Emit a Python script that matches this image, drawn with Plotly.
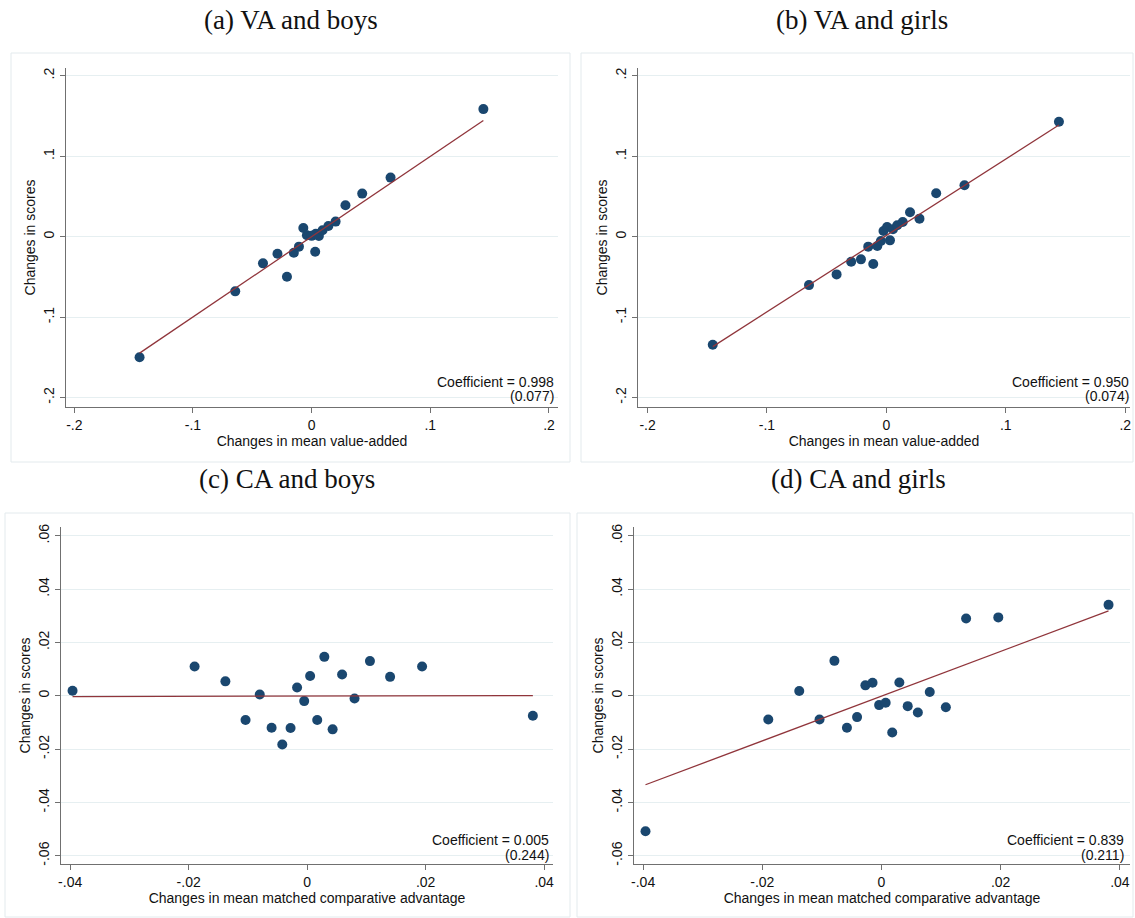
import plotly.graph_objects as go
import numpy as np

# ---------------- data ----------------
va_boys_x = [-0.1450, -0.0644, -0.0410, -0.0288, -0.0208, -0.0150, -0.0107, -0.0070, -0.0040, 0.0000,
             0.0030, 0.0035, 0.0061, 0.0092, 0.0141, 0.0202, 0.0285, 0.0426, 0.0665, 0.1447]
va_boys_y = [-0.1498, -0.0680, -0.0332, -0.0212, -0.0498, -0.0200, -0.0124, 0.0108, 0.0017, 0.0010,
             -0.0187, 0.0035, 0.0008, 0.0079, 0.0133, 0.0187, 0.0390, 0.0535, 0.0734, 0.1585]
va_boys_fit = (0.0000, 0.998)   # intercept, slope

va_girls_x = [-0.1454, -0.0648, -0.0417, -0.0295, -0.0213, -0.0152, -0.0110, -0.0076, -0.0046, -0.0024,
              0.0006, 0.0030, 0.0055, 0.0091, 0.0137, 0.0198, 0.0277, 0.0417, 0.0654, 0.1445]
va_girls_y = [-0.1344, -0.0602, -0.0469, -0.0311, -0.0282, -0.0124, -0.0340, -0.0116, -0.0054, 0.0071,
              0.0120, -0.0046, 0.0091, 0.0141, 0.0183, 0.0303, 0.0224, 0.0539, 0.0639, 0.1427]
va_girls_fit = (0.0015, 0.950)

ca_boys_x = [-0.0396, -0.0190, -0.0138, -0.0104, -0.0080, -0.0060, -0.0042, -0.0028, -0.0017, -0.0005,
             0.0005, 0.0017, 0.0029, 0.0043, 0.0059, 0.0080, 0.0106, 0.0140, 0.0194, 0.0381]
ca_boys_y = [0.0019, 0.0110, 0.0054, -0.0091, 0.0005, -0.0120, -0.0183, -0.0121, 0.0031, -0.0020,
             0.0074, -0.0091, 0.0146, -0.0126, 0.0080, -0.0010, 0.0130, 0.0071, 0.0110, -0.0075]
ca_boys_fit = (-0.0001, 0.005)

ca_girls_x = [-0.0396, -0.0190, -0.0138, -0.0104, -0.0079, -0.0058, -0.0041, -0.0027, -0.0015, -0.0004,
              0.0007, 0.0018, 0.0030, 0.0044, 0.0061, 0.0081, 0.0108, 0.0142, 0.0196, 0.0381]
ca_girls_y = [-0.0508, -0.0089, 0.0018, -0.0089, 0.0131, -0.0120, -0.0080, 0.0039, 0.0049, -0.0035,
              -0.0026, -0.0138, 0.0050, -0.0039, -0.0063, 0.0014, -0.0043, 0.0290, 0.0294, 0.0341]
ca_girls_fit = (-0.00015, 0.839)

panel_titles = ["(a) VA and boys", "(b) VA and girls", "(c) CA and boys", "(d) CA and girls"]
coef_text = [("Coefficient = 0.998", "(0.077)"), ("Coefficient = 0.950", "(0.074)"),
             ("Coefficient = 0.005", "(0.244)"), ("Coefficient = 0.839", "(0.211)")]
xlabels = ["Changes in mean value-added", "Changes in mean value-added",
           "Changes in mean matched comparative advantage", "Changes in mean matched comparative advantage"]
ylabel = "Changes in scores"

va_ticks = [-0.2, -0.1, 0, 0.1, 0.2]
va_ticktext = ["-.2", "-.1", "0", ".1", ".2"]
ca_xticks = [-0.04, -0.02, 0, 0.02, 0.04]
ca_xticktext = ["-.04", "-.02", "0", ".02", ".04"]
ca_yticks = [-0.06, -0.04, -0.02, 0, 0.02, 0.04, 0.06]
ca_yticktext = ["-.06", "-.04", "-.02", "0", ".02", ".04", ".06"]

# ---------------- layout geometry (pixels) ----------------
W, H = 1135, 918
NAVY = "#1a476f"
MAROON = "#90353b"
AXIS = "#707070"
GRID = "#e6eff1"
FRAME = "#e3eaed"
SANS = "Liberation Sans, Arial, sans-serif"
SERIF = "Liberation Serif, Times New Roman, serif"

panels = [
    dict(x=va_boys_x, y=va_boys_y, fit=va_boys_fit, px=(66, 558), py=(68, 407),
         xr=(-0.207, 0.2076), yr=(-0.2117, 0.2096), xt=va_ticks, xtt=va_ticktext, yt=va_ticks, ytt=va_ticktext,
         frame=(11, 53, 570, 462), title=(291, 20), coef=(556, 381.5, 396.5)),
    dict(x=va_girls_x, y=va_girls_y, fit=va_girls_fit, px=(638, 1130), py=(68, 407),
         xr=(-0.208, 0.204), yr=(-0.2117, 0.2096), xt=va_ticks, xtt=va_ticktext, yt=va_ticks, ytt=va_ticktext,
         frame=(581, 53, 1133, 462), title=(862, 20), coef=(1131, 381.5, 396.5)),
    dict(x=ca_boys_x, y=ca_boys_y, fit=ca_boys_fit, px=(61, 553), py=(527, 864),
         xr=(-0.04155, 0.0415), yr=(-0.0631, 0.0633), xt=ca_xticks, xtt=ca_xticktext, yt=ca_yticks, ytt=ca_yticktext,
         frame=(5, 513, 570, 917), title=(287, 479), coef=(551, 840, 854.5)),
    dict(x=ca_girls_x, y=ca_girls_y, fit=ca_girls_fit, px=(634, 1130), py=(527, 864),
         xr=(-0.04153, 0.0417), yr=(-0.0631, 0.0633), xt=ca_xticks, xtt=ca_xticktext, yt=ca_yticks, ytt=ca_yticktext,
         frame=(577, 513, 1133, 917), title=(858, 479), coef=(1126, 840, 854.5)),
]

fig = go.Figure()
shapes = []
annotations = []
layout_axes = {}

for i, p in enumerate(panels):
    n = "" if i == 0 else str(i + 1)
    xa, ya = "x" + n, "y" + n
    # frame of the graph region
    l, t, r, b = p["frame"]
    shapes.append(dict(type="rect", xref="paper", yref="paper", x0=l / W, x1=r / W,
                       y0=1 - b / H, y1=1 - t / H, line=dict(color=FRAME, width=1), layer="below"))
    # scatter points
    fig.add_trace(go.Scatter(x=p["x"], y=p["y"], mode="markers", xaxis=xa, yaxis=ya,
                             marker=dict(color=NAVY, size=10, line=dict(width=0)), showlegend=False))
    # fitted line
    b0, b1 = p["fit"]
    xs = np.array([min(p["x"]), max(p["x"])])
    fig.add_trace(go.Scatter(x=xs, y=b0 + b1 * xs, mode="lines", xaxis=xa, yaxis=ya,
                             line=dict(color=MAROON, width=1.3), showlegend=False))
    layout_axes["xaxis" + n] = dict(
        domain=[p["px"][0] / W, p["px"][1] / W], anchor=ya, range=list(p["xr"]),
        tickmode="array", tickvals=p["xt"], ticktext=p["xtt"], ticks="outside", ticklen=5,
        tickcolor=AXIS, tickwidth=1, showline=True, linecolor=AXIS, linewidth=1,
        showgrid=False, zeroline=False, tickfont=dict(family=SANS, size=14, color="#111"),
        title=dict(text=xlabels[i], font=dict(family=SANS, size=14, color="#111"), standoff=2))
    layout_axes["yaxis" + n] = dict(
        domain=[1 - p["py"][1] / H, 1 - p["py"][0] / H], anchor=xa, range=list(p["yr"]),
        tickmode="array", tickvals=p["yt"], ticktext=p["ytt"], ticks="outside", ticklen=5,
        tickcolor=AXIS, tickwidth=1, showline=True, linecolor=AXIS, linewidth=1,
        showgrid=True, gridcolor=GRID, gridwidth=1, zeroline=False, tickangle=-90,
        tickfont=dict(family=SANS, size=14, color="#111"),
        title=dict(text=ylabel, font=dict(family=SANS, size=14, color="#111"), standoff=2))
    # panel title
    tx, ty = p["title"]
    annotations.append(dict(text=panel_titles[i], x=tx / W, y=1 - ty / H, xref="paper", yref="paper",
                            xanchor="center", yanchor="middle", showarrow=False,
                            font=dict(family=SERIF, size=27, color="#111")))
    # coefficient text
    cx, cy1, cy2 = p["coef"]
    for txt, cy in zip(coef_text[i], (cy1, cy2)):
        annotations.append(dict(text=txt, x=cx / W, y=1 - cy / H, xref="paper", yref="paper",
                                xanchor="right", yanchor="middle", showarrow=False,
                                font=dict(family=SANS, size=14, color="#111")))

fig.update_layout(
    width=W, height=H, margin=dict(l=0, r=0, t=0, b=0),
    paper_bgcolor="white", plot_bgcolor="white", template="none",
    shapes=shapes, annotations=annotations, **layout_axes)

fig.write_html("out.html")
